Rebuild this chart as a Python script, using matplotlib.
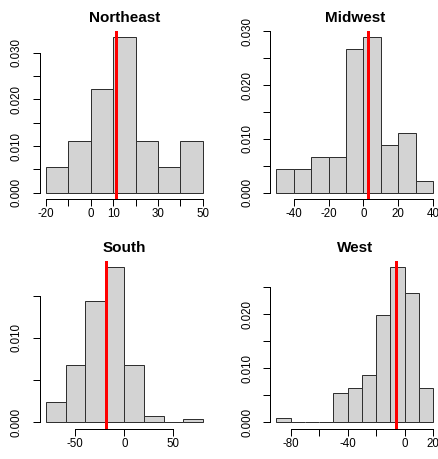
import matplotlib
matplotlib.use("Agg")
import matplotlib.pyplot as plt
import numpy as np

plt.rcParams['font.family'] = ['Liberation Sans', 'DejaVu Sans']

# ---- data (histogram densities) ----
regions = ["Northeast", "Midwest", "South", "West"]

ne_breaks = [-20, -10, 0, 10, 20, 30, 40, 50]
ne_density = [0.0056, 0.0111, 0.0222, 0.0333, 0.0111, 0.0056, 0.0111]
ne_mean = 11.2

mw_breaks = [-50, -40, -30, -20, -10, 0, 10, 20, 30, 40]
mw_density = [0.0044, 0.0044, 0.0067, 0.0067, 0.0267, 0.0289, 0.0089, 0.0111, 0.0022]
mw_mean = 2.5

so_breaks = [-80, -60, -40, -20, 0, 20, 40, 60, 80]
so_density = [0.0024, 0.0068, 0.0144, 0.0184, 0.0068, 0.0008, 0.0, 0.0004]
so_mean = -19.0

we_breaks = [-90, -80, -70, -60, -50, -40, -30, -20, -10, 0, 10, 20]
we_density = [0.00074, 0.0, 0.0, 0.0, 0.0055, 0.0063, 0.0087, 0.0199, 0.0287, 0.0239, 0.0063]
we_mean = -6.0

# axis ticks (R drops overlapping labels)
ne_xticks = [-20, -10, 0, 10, 20, 30, 40, 50]
ne_xlabels = ["-20", "", "0", "10", "", "30", "", "50"]
mw_xticks = [-40, -20, 0, 20, 40]
mw_xlabels = ["-40", "-20", "0", "20", "40"]
so_xticks = [-50, 0, 50]
so_xlabels = ["-50", "0", "50"]
we_xticks = [-80, -60, -40, -20, 0, 20]
we_xlabels = ["-80", "", "-40", "", "0", "20"]

ne_yticks = [0, 0.005, 0.010, 0.015, 0.020, 0.025, 0.030]
ne_ylabels = ["0.000", "", "0.010", "", "0.020", "", "0.030"]
mw_yticks = [0, 0.005, 0.010, 0.015, 0.020, 0.025, 0.030]
mw_ylabels = ["0.000", "", "0.010", "", "0.020", "", "0.030"]
so_yticks = [0, 0.005, 0.010, 0.015]
so_ylabels = ["0.000", "", "0.010", ""]
we_yticks = [0, 0.005, 0.010, 0.015, 0.020, 0.025]
we_ylabels = ["0.000", "", "0.010", "", "0.020", ""]

panels = [
    (ne_breaks, ne_density, ne_mean, ne_xticks, ne_xlabels, ne_yticks, ne_ylabels),
    (mw_breaks, mw_density, mw_mean, mw_xticks, mw_xlabels, mw_yticks, mw_ylabels),
    (so_breaks, so_density, so_mean, so_xticks, so_xlabels, so_yticks, so_ylabels),
    (we_breaks, we_density, we_mean, we_xticks, we_xlabels, we_yticks, we_ylabels),
]

W, H = 438, 459
fig = plt.figure(figsize=(W / 100, H / 100), dpi=100)

col_left = [39.7, 270.0]
row_top = [31.0, 260.7]
pw, ph = 169.3, 168.0

px = 0.72  # points per pixel at 100 dpi

for i, (name, p) in enumerate(zip(regions, panels)):
    breaks, dens, mean, xt, xl, yt, yl = p
    r, c = divmod(i, 2)
    left = col_left[c]
    top = row_top[r]
    ax = fig.add_axes([left / W, (H - top - ph) / H, pw / W, ph / H])

    b = np.array(breaks, dtype=float)
    ax.bar(b[:-1], dens, width=np.diff(b), align='edge',
           facecolor='#D3D3D3', edgecolor='#303030', linewidth=1.0 * px, zorder=2)
    ax.axvline(mean, color='#FF0000', linewidth=3 * px, zorder=3)

    span = b[-1] - b[0]
    ax.set_xlim(b[0] - 0.04 * span, b[-1] + 0.04 * span)
    ymax = max(dens)
    ax.set_ylim(-0.04 * ymax, 1.04 * ymax)

    for s in ['top', 'right']:
        ax.spines[s].set_visible(False)
    for s in ['left', 'bottom']:
        ax.spines[s].set_linewidth(1.0 * px)
        ax.spines[s].set_color('black')
    ax.spines['bottom'].set_bounds(xt[0], xt[-1])
    ax.spines['left'].set_bounds(yt[0], yt[-1])

    ax.set_xticks(xt)
    ax.set_xticklabels(xl)
    ax.set_yticks(yt)
    ax.set_yticklabels(yl, rotation=90, va='center')
    ax.tick_params(axis='both', length=7 * px, width=1.0 * px, labelsize=8.3, colors='black')
    ax.tick_params(axis='x', pad=1.5)
    ax.tick_params(axis='y', pad=7)
    ax.patch.set_visible(False)

    ax.set_title(name, fontsize=11, fontweight='bold', pad=6.5)

fig.savefig("out.png", dpi=100)
